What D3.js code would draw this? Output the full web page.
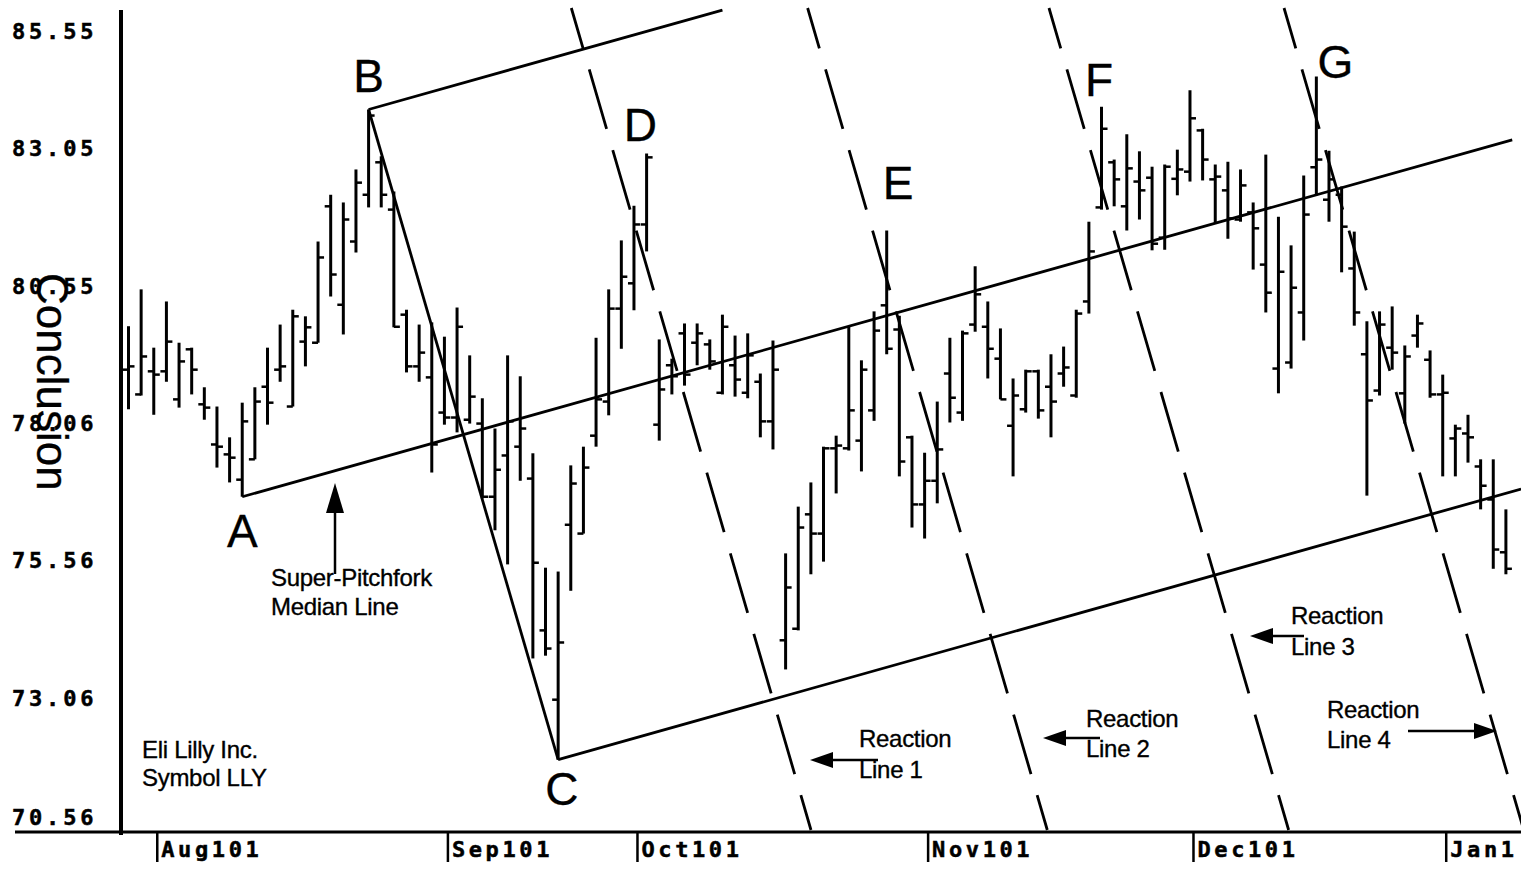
<!DOCTYPE html>
<html><head><meta charset="utf-8">
<script src="https://cdn.jsdelivr.net/npm/d3@7"></script>
<style>
html,body{margin:0;padding:0;background:#fff;}
svg{display:block;}
.ann{font-family:"Liberation Sans",Arial,sans-serif;fill:#000;stroke:#000;stroke-width:0.35px;}
.mono{font-family:"DejaVu Sans Mono",monospace;font-weight:bold;fill:#000;stroke:#000;stroke-width:0.5px;}
</style></head><body>
<svg id="chart" width="1521" height="869"></svg>
<script>
// ---- data (Eli Lilly, LLY daily bars, Jul 30 2001 - Jan 9 2002) ----
const dates = [
 "2001-07-30","2001-07-31",
 "2001-08-01","2001-08-02","2001-08-03","2001-08-06","2001-08-07","2001-08-08","2001-08-09","2001-08-10",
 "2001-08-13","2001-08-14","2001-08-15","2001-08-16","2001-08-17","2001-08-20","2001-08-21","2001-08-22",
 "2001-08-23","2001-08-24","2001-08-27","2001-08-28","2001-08-29","2001-08-30","2001-08-31",
 "2001-09-04","2001-09-05","2001-09-06","2001-09-07","2001-09-10","2001-09-17","2001-09-18","2001-09-19",
 "2001-09-20","2001-09-21","2001-09-24","2001-09-25","2001-09-26","2001-09-27","2001-09-28",
 "2001-10-01","2001-10-02","2001-10-03","2001-10-04","2001-10-05","2001-10-08","2001-10-09","2001-10-10",
 "2001-10-11","2001-10-12","2001-10-15","2001-10-16","2001-10-17","2001-10-18","2001-10-19","2001-10-22",
 "2001-10-23","2001-10-24","2001-10-25","2001-10-26","2001-10-29","2001-10-30","2001-10-31",
 "2001-11-01","2001-11-02","2001-11-05","2001-11-06","2001-11-07","2001-11-08","2001-11-09","2001-11-12",
 "2001-11-13","2001-11-14","2001-11-15","2001-11-16","2001-11-19","2001-11-20","2001-11-21","2001-11-23",
 "2001-11-26","2001-11-27","2001-11-28","2001-11-29","2001-11-30",
 "2001-12-03","2001-12-04","2001-12-05","2001-12-06","2001-12-07","2001-12-10","2001-12-11","2001-12-12",
 "2001-12-13","2001-12-14","2001-12-17","2001-12-18","2001-12-19","2001-12-20","2001-12-21","2001-12-24",
 "2001-12-26","2001-12-27","2001-12-28","2001-12-31",
 "2002-01-02","2002-01-03","2002-01-04","2002-01-07","2002-01-08","2002-01-09"];
const open = [
 79.02,78.57,78.99,78.99,78.48,79.39,78.39,77.66,77.48,77.02,
 77.39,78.71,79.02,78.35,79.53,79.51,81.99,80.20,81.35,82.20,
 82.79,81.93,80.02,79.08,78.88,78.24,78.15,78.11,78.04,76.71,
 77.46,77.62,77.04,74.28,73.02,76.20,76.04,77.82,78.44,80.13,
 80.59,81.66,78.02,79.10,79.68,79.51,79.48,78.60,79.10,78.60,
 78.80,78.08,74.10,74.31,76.39,76.04,77.59,77.59,77.73,78.28,
 80.19,79.75,77.79,76.57,77.00,78.95,78.24,79.84,79.80,79.22,
 78.00,78.30,78.99,78.71,78.95,78.55,80.26,81.97,82.79,81.99,
 82.44,82.51,81.42,82.49,82.62,83.37,82.48,82.28,81.75,81.88,
 80.93,79.04,79.15,80.06,82.70,82.11,82.20,80.86,79.30,78.64,
 79.42,78.59,79.64,79.20,78.57,77.77,77.86,77.26,76.66,75.70];
const high = [
 79.81,80.48,79.42,80.26,79.51,79.42,78.70,78.35,77.79,78.42,
 78.70,79.42,79.84,80.11,79.99,81.35,82.20,82.06,82.66,83.75,
 82.90,82.26,80.11,79.84,79.88,79.62,80.15,79.28,78.50,77.95,
 79.28,78.90,77.50,75.42,75.35,77.28,77.62,79.60,80.48,81.37,
 82.00,82.95,79.57,79.22,79.86,79.86,79.57,80.02,79.64,79.68,
 78.95,79.55,75.68,76.53,76.97,77.62,77.82,79.80,79.19,80.08,
 81.55,80.00,77.82,77.51,78.44,79.60,79.73,80.90,80.26,79.77,
 78.86,79.02,79.02,79.30,79.44,80.11,81.71,83.80,82.84,83.30,
 82.99,82.71,82.75,83.02,84.10,83.40,82.75,82.80,82.66,82.06,
 82.93,81.80,81.28,82.55,84.35,83.00,82.35,81.53,79.90,80.08,
 80.17,79.46,80.02,79.37,78.93,78.02,78.20,77.39,77.39,76.48];
const low = [
 78.30,78.55,78.20,78.80,78.33,78.57,78.11,77.24,76.97,76.71,
 77.39,78.02,78.80,78.35,79.08,79.51,80.35,79.66,81.15,81.97,
 81.97,79.79,78.97,78.80,77.15,78.02,77.88,78.04,76.68,76.10,
 75.48,77.00,73.77,73.82,71.93,75.00,76.04,77.62,78.19,79.40,
 80.10,81.17,77.73,78.57,78.73,79.10,79.02,78.57,78.53,78.50,
 77.79,77.57,73.57,74.28,75.30,75.53,76.77,77.55,77.17,78.09,
 79.30,77.08,76.15,75.95,76.59,78.06,78.09,79.71,78.86,78.48,
 77.08,78.24,78.13,77.79,78.71,78.51,80.04,81.93,81.99,81.55,
 81.75,81.19,81.20,82.19,82.44,82.46,81.68,81.40,81.71,80.84,
 80.06,78.59,79.04,79.55,82.19,81.71,80.79,79.82,76.73,78.55,
 79.02,78.04,79.42,78.51,77.08,77.08,77.33,76.48,75.40,75.30];
const close = [
 79.08,79.26,78.93,79.53,79.17,79.02,78.33,77.62,77.42,78.08,
 78.44,78.42,79.08,79.99,79.79,81.06,80.75,81.75,82.42,83.64,
 82.20,79.80,79.08,79.33,77.66,78.15,79.80,78.53,76.71,77.20,
 78.08,77.95,75.51,73.95,74.06,76.95,77.24,78.48,80.13,80.71,
 81.66,82.88,78.66,78.90,78.93,79.68,79.17,79.80,78.84,79.28,
 78.08,79.02,75.06,76.15,76.04,77.59,77.64,78.28,79.02,79.73,
 79.40,77.35,76.57,77.00,77.57,78.51,79.68,80.39,79.40,78.48,
 78.55,78.99,78.28,78.44,79.06,80.04,81.17,83.40,82.48,82.68,
 82.28,81.31,82.71,82.66,83.59,82.84,82.53,81.77,82.37,81.59,
 80.42,80.80,80.51,81.84,82.84,82.48,81.62,80.06,78.46,79.84,
 79.33,79.26,79.86,78.57,78.60,77.95,77.79,76.91,75.75,75.40];

const yTickValues = [70.56, 73.06, 75.56, 78.06, 80.55, 83.05, 85.55];
const yTickLabels = ["70.56", "73.06", "75.56", "78.06", "80.55", "83.05", "85.55"];
const monthTickDates = ["2001-08-01","2001-09-04","2001-10-01","2001-11-01","2001-12-03","2002-01-02"];
const monthTickLabels = ["Aug101","Sep101","Oct101","Nov101","Dec101","Jan1"];

// pitchfork pivots (bar index): A = low, B = high, C = low
const pivotA = "2001-08-10", pivotB = "2001-08-24", pivotC = "2001-09-21";
// reaction lines: index position where each crosses the top price
const reactionIdx = [35.1, 53.8, 72.9, 91.5];
const reactionPrice = 85.55;
// pivot letters: (bar index, price at baseline)
const letterNames = ["A","B","C","D","E","F","G"];
const letterIdx   = [9.0, 19.0, 34.3, 40.5, 60.9, 76.8, 95.5];
const letterPrice = [75.80, 84.06, 71.10, 83.17, 82.13, 83.99, 84.33];

// ---- drawing ----
const W = 1521, H = 869;
const svg = d3.select("#chart");
const n = dates.length;
const x = d3.scaleLinear().domain([0, n - 1]).range([128.5, 1505.9]);
const y = d3.scaleLinear().domain([70.56, 85.55]).range([835, 10.5]);
const idx = d => dates.indexOf(d);

// frame lines
svg.append("line").attr("x1", 121).attr("x2", 121).attr("y1", 10).attr("y2", 835)
  .attr("stroke", "#000").attr("stroke-width", 4);
svg.append("line").attr("x1", 15).attr("x2", W).attr("y1", 832).attr("y2", 832)
  .attr("stroke", "#000").attr("stroke-width", 3);

// y axis labels
const yAxis = d3.axisLeft(y).tickValues(yTickValues).tickSize(0)
  .tickFormat((d, i) => yTickLabels[i]);
const gy = svg.append("g").call(yAxis);
gy.select(".domain").remove();
gy.selectAll("text").attr("class", "mono").attr("x", 12).attr("text-anchor", "start")
  .attr("font-size", 22).attr("letter-spacing", "3.8px")
  .attr("dy", "0.36em")
  .attr("y", d => d === 85.55 ? 20 : (d === 70.56 ? -18 : 0));

// x axis month ticks
const xAxis = d3.axisBottom(x).tickValues(monthTickDates.map(idx)).tickSize(30)
  .tickFormat((d, i) => monthTickLabels[i]);
const gx = svg.append("g").attr("transform", "translate(3,832)").call(xAxis);
gx.select(".domain").remove();
gx.selectAll(".tick line").attr("stroke", "#000").attr("stroke-width", 2.5);
gx.selectAll("text").attr("class", "mono").attr("font-size", 22).attr("letter-spacing", "3.6px")
  .attr("text-anchor", "start").attr("x", 4).attr("y", 25).attr("dy", 0);

// OHLC bars
const bars = svg.append("g").selectAll("g").data(d3.range(n)).join("g");
bars.append("line").attr("x1", i => x(i)).attr("x2", i => x(i))
  .attr("y1", i => y(high[i])).attr("y2", i => y(low[i]))
  .attr("stroke", "#000").attr("stroke-width", 3);
bars.append("line").attr("x1", i => x(i) - 6).attr("x2", i => x(i))
  .attr("y1", i => y(open[i])).attr("y2", i => y(open[i]))
  .attr("stroke", "#000").attr("stroke-width", 2.5);
bars.append("line").attr("x1", i => x(i)).attr("x2", i => x(i) + 6)
  .attr("y1", i => y(close[i])).attr("y2", i => y(close[i]))
  .attr("stroke", "#000").attr("stroke-width", 2.5);

// pitchfork
const iA = idx(pivotA), iB = idx(pivotB), iC = idx(pivotC);
const A = [x(iA), y(low[iA])], B = [x(iB), y(high[iB])], C = [x(iC), y(low[iC])];
const M = [(B[0] + C[0]) / 2, (B[1] + C[1]) / 2];
const slope = (M[1] - A[1]) / (M[0] - A[0]);
const pf = svg.append("g").attr("stroke", "#000").attr("stroke-width", 2.8).attr("fill", "none");
const seg = (p, xEnd) => pf.append("line").attr("x1", p[0]).attr("y1", p[1])
  .attr("x2", xEnd).attr("y2", p[1] + slope * (xEnd - p[0]));
seg(A, x(109.5));
seg(B, x(47));
seg(C, x(110.2));
pf.append("line").attr("x1", B[0]).attr("y1", B[1]).attr("x2", C[0]).attr("y2", C[1]);

// reaction lines (parallel to B-C handle)
const hs = (C[0] - B[0]) / (C[1] - B[1]);
const rg = svg.append("g").attr("stroke", "#000").attr("stroke-width", 2.8)
  .attr("stroke-dasharray", "62,22").attr("stroke-dashoffset", 20);
reactionIdx.forEach(ri => {
  const x0 = x(ri), y0 = y(reactionPrice);
  const yTop = 8, yBot = 830;
  rg.append("line").attr("x1", x0 + (yTop - y0) * hs).attr("y1", yTop)
    .attr("x2", x0 + (yBot - y0) * hs).attr("y2", yBot);
});

// pivot letters
svg.append("g").selectAll("text").data(letterNames).join("text")
  .attr("class", "ann").attr("font-size", 46).attr("text-anchor", "middle")
  .attr("x", (d, i) => x(letterIdx[i])).attr("y", (d, i) => y(letterPrice[i]))
  .text(d => d);

// annotation texts
const ann = svg.append("g");
function txt(s, tx, ty) {
  ann.append("text").attr("class", "ann").attr("font-size", 24).attr("letter-spacing", "-0.3px")
    .attr("x", tx).attr("y", ty).text(s);
}
txt("Super-Pitchfork", 271, 586);
txt("Median Line", 271, 615);
txt("Eli Lilly Inc.", 142, 758);
txt("Symbol LLY", 142, 786);
txt("Reaction", 859, 747); txt("Line 1", 859, 778);
txt("Reaction", 1086, 727); txt("Line 2", 1086, 757);
txt("Reaction", 1291, 624); txt("Line 3", 1291, 655);
txt("Reaction", 1327, 718); txt("Line 4", 1327, 748);

// arrows
function arrowUp(ax, yTip, yEnd) {
  ann.append("line").attr("x1", ax).attr("x2", ax).attr("y1", yTip + 20).attr("y2", yEnd)
    .attr("stroke", "#000").attr("stroke-width", 2.5);
  ann.append("path").attr("d", `M${ax},${yTip} L${ax - 9},${yTip + 30} L${ax + 9},${yTip + 30} Z`).attr("fill", "#000");
}
function arrowH(xTip, xEnd, ay) {
  const dir = xEnd > xTip ? 1 : -1;
  ann.append("line").attr("x1", xTip + dir * 15).attr("x2", xEnd).attr("y1", ay).attr("y2", ay)
    .attr("stroke", "#000").attr("stroke-width", 2.5);
  ann.append("path").attr("d", `M${xTip},${ay} L${xTip + dir * 23},${ay - 8} L${xTip + dir * 23},${ay + 8} Z`).attr("fill", "#000");
}
arrowUp(335, 483, 574);
arrowH(810, 878, 760);
arrowH(1043, 1100, 738);
arrowH(1250, 1304, 636);
arrowH(1497, 1408, 731);

// rotated title
svg.append("text").attr("class", "ann").attr("font-size", 44)
  .attr("transform", "translate(37,273) rotate(90)").text("Conclusion");
</script>
</body></html>
